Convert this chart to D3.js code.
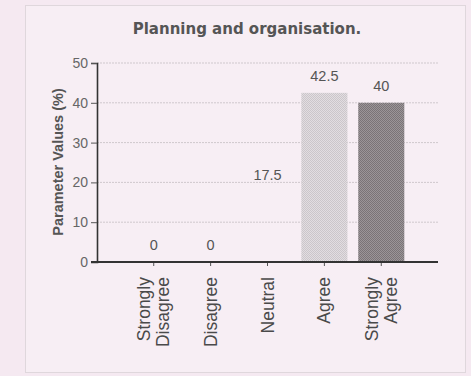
<!DOCTYPE html>
<html>
<head>
<meta charset="utf-8">
<script src="https://cdn.jsdelivr.net/npm/d3@7"></script>
<style>
  html, body { margin: 0; padding: 0; background: #f5e9f1; }
  svg { display: block; }
</style>
</head>
<body>
<svg id="chart" width="471" height="376"></svg>
<script>
// Survey responses: "Planning and organisation."
const categories = [["Strongly", "Disagree"], ["Disagree"], ["Neutral"], ["Agree"], ["Strongly", "Agree"]];
const values = [0, 0, 17.5, 42.5, 40];
const yTicks = [0, 10, 20, 30, 40, 50];
const barFills = ["none", "none", "none", "url(#dotLight)", "url(#dotDark)"];

const svg = d3.select("#chart");

// stippled fills for the bars
const defs = svg.append("defs");
function stipple(id, base, dot) {
  const p = defs.append("pattern").attr("id", id)
    .attr("width", 2).attr("height", 2).attr("patternUnits", "userSpaceOnUse");
  p.append("rect").attr("width", 2).attr("height", 2).attr("fill", base);
  p.append("rect").attr("width", 1).attr("height", 1).attr("fill", dot);
  p.append("rect").attr("x", 1).attr("y", 1).attr("width", 1).attr("height", 1).attr("fill", dot);
}
stipple("dotLight", "#e2dde1", "#cbc6ca");
stipple("dotDark", "#9b9598", "#7a7477");

// outer dotted frame
svg.append("rect")
  .attr("x", 25.5).attr("y", 5.5).attr("width", 440).attr("height", 367)
  .attr("fill", "#f7eef4")
  .attr("stroke", "#c9c2c7").attr("stroke-width", 1).attr("stroke-dasharray", "1,1");

// title
svg.append("text")
  .attr("x", 247).attr("y", 34)
  .attr("text-anchor", "middle")
  .attr("font-family", "DejaVu Sans, Verdana, sans-serif")
  .attr("font-weight", "bold").attr("font-size", 15)
  .attr("fill", "#555")
  .text("Planning and organisation.");

const axisX = 97, axisRight = 438;
const y = d3.scaleLinear().domain([0, 50]).range([262, 63]);
const x = d3.scaleBand().domain(d3.range(categories.length))
  .range([125, 410]).paddingInner(0.19).paddingOuter(0.1);

// dotted gridlines
svg.append("g").selectAll("line")
  .data(yTicks.filter(d => d > 0))
  .join("line")
  .attr("x1", axisX).attr("x2", axisRight)
  .attr("y1", d => y(d)).attr("y2", d => y(d))
  .attr("stroke", "#cfc8cd").attr("stroke-width", 1).attr("stroke-dasharray", "2,1");

// bars
svg.append("g").selectAll("rect")
  .data(values)
  .join("rect")
  .attr("x", (d, i) => x(i))
  .attr("width", x.bandwidth())
  .attr("y", d => y(d))
  .attr("height", d => y(0) - y(d))
  .attr("fill", (d, i) => barFills[i]);

// y axis
const yAxis = d3.axisLeft(y).tickValues(yTicks).tickSize(6).tickPadding(3);
const gy = svg.append("g").attr("transform", `translate(${axisX},0)`).call(yAxis);
gy.select(".domain").attr("stroke", "#333").attr("stroke-width", 1.6);
gy.selectAll(".tick line").attr("stroke", "#555");
gy.selectAll(".tick text")
  .attr("font-family", "Liberation Sans, Arial, sans-serif")
  .attr("font-size", 14).attr("fill", "#666");

// x axis
const xAxis = d3.axisBottom(x).tickSize(4).tickFormat(() => "");
const gx = svg.append("g").attr("transform", `translate(0,${y(0)})`).call(xAxis);
gx.select(".domain").remove();
gx.selectAll(".tick line").attr("stroke", "#555");
gx.append("line")
  .attr("x1", axisX - 6).attr("x2", axisRight)
  .attr("y1", 0).attr("y2", 0)
  .attr("stroke", "#333").attr("stroke-width", 2);

// rotated category labels
const catG = svg.append("g").selectAll("g")
  .data(categories)
  .join("g")
  .attr("transform", (d, i) => `translate(${x(i) + x.bandwidth() / 2},277) rotate(-90)`);
catG.each(function(lines) {
  const t = d3.select(this).append("text")
    .attr("text-anchor", "end")
    .attr("font-family", "Liberation Sans, Arial, sans-serif")
    .attr("font-size", 17.5).attr("fill", "#4a4a4a");
  const lh = 19;
  const off = -(lines.length - 1) * lh / 2 + 6;
  lines.forEach((ln, k) => {
    t.append("tspan").attr("x", 0).attr("y", off + k * lh).text(ln);
  });
});

// value labels
svg.append("g").selectAll("text")
  .data(values)
  .join("text")
  .attr("x", (d, i) => x(i) + x.bandwidth() / 2)
  .attr("y", d => y(d) - 12)
  .attr("text-anchor", "middle")
  .attr("font-family", "Liberation Sans, Arial, sans-serif")
  .attr("font-size", 14.5).attr("fill", "#555")
  .text(d => d);

// y axis title
svg.append("text")
  .attr("transform", `translate(63,162) rotate(-90)`)
  .attr("text-anchor", "middle")
  .attr("font-family", "Liberation Sans, Arial, sans-serif")
  .attr("font-weight", "bold").attr("font-size", 14.5)
  .attr("fill", "#555")
  .text("Parameter Values (%)");
</script>
</body>
</html>
